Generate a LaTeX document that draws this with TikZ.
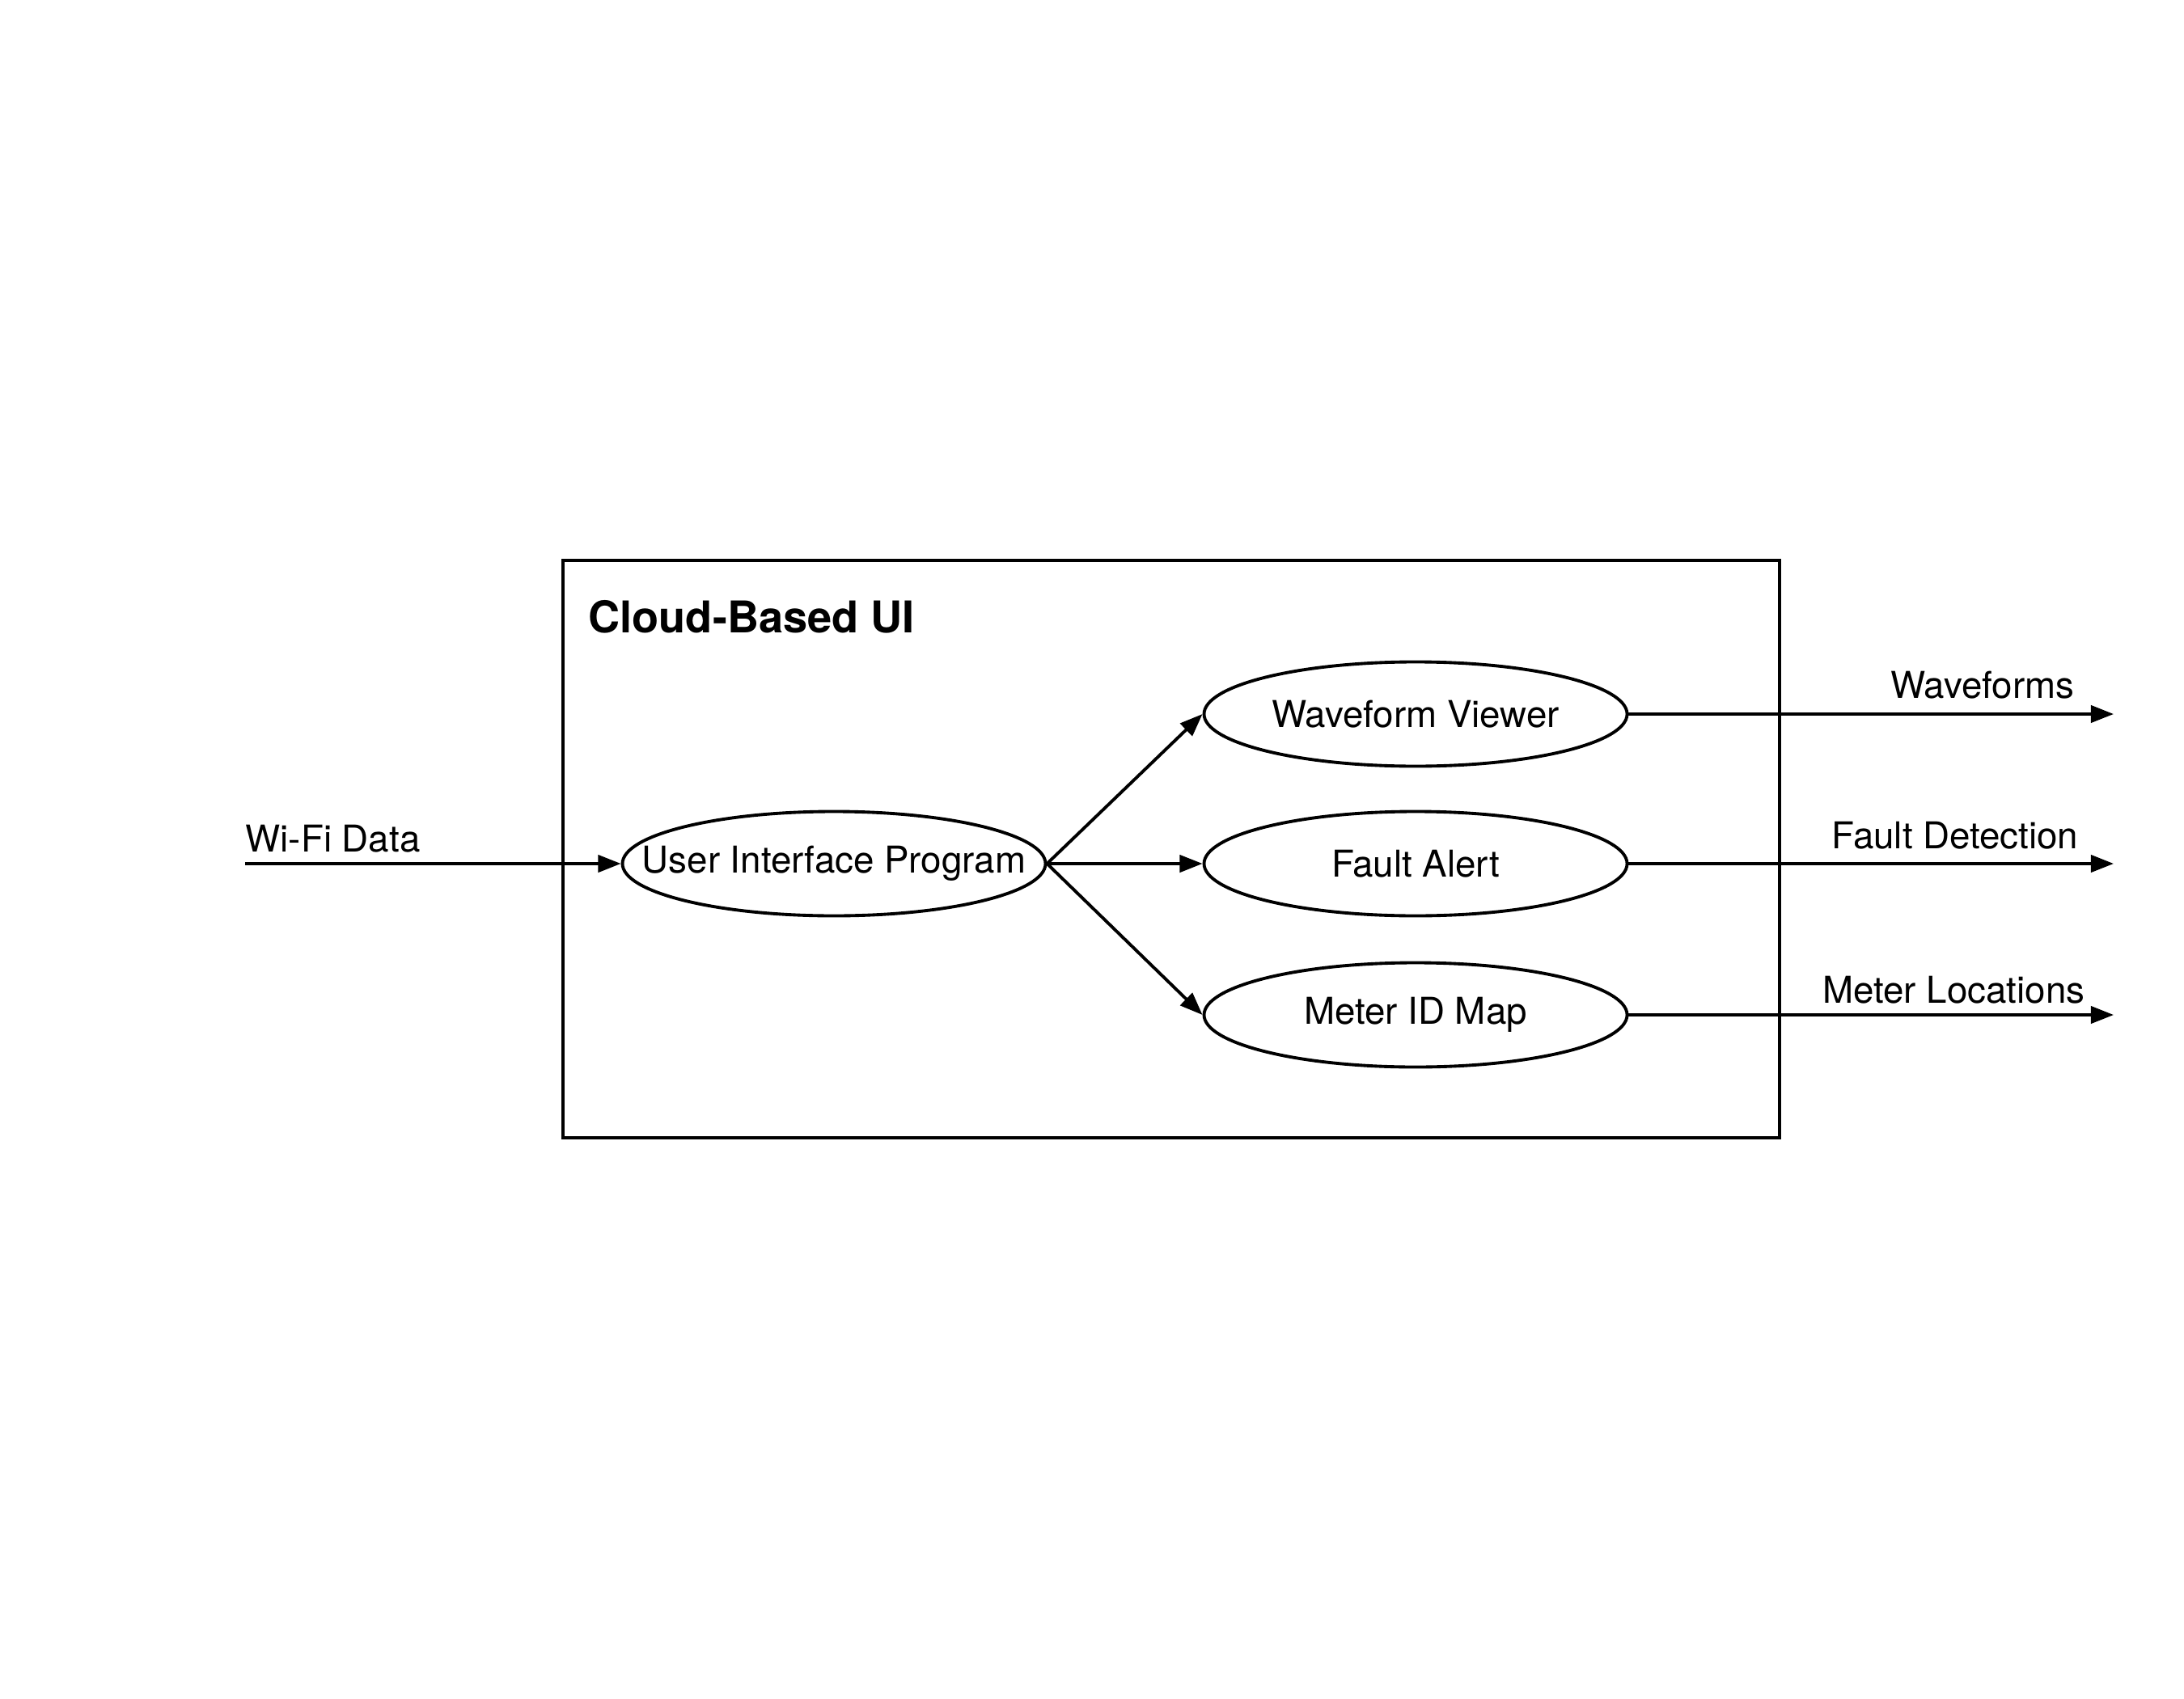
\documentclass[tikz,border=0pt]{standalone}
\usepackage{fontspec}
\setmainfont{TeX Gyre Heros}
\usetikzlibrary{shapes.geometric, arrows.meta}
\tikzstyle{proc} = [draw, ellipse, line width=1.1pt, minimum width=5.23cm, minimum height=1.29cm, inner sep=0pt, font=\fontsize{13}{15.5}\selectfont]
\tikzstyle{frame} = [draw, line width=1.1pt]
\tikzstyle{line} = [draw, line width=1.1pt, -{Triangle[length=8pt, width=6pt]}]
\tikzstyle{lbl} = [inner sep=0pt, font=\fontsize{13}{15.5}\selectfont]
\newcommand{\outarrow}[4]{
  \path [line] (#1.east) -- (#2);
  \node (#2l) [lbl, anchor=base east] at (#3) {#4};}

\begin{document}
\begin{tikzpicture}
		\useasboundingbox (0,0) rectangle (27,21);

		% Draw diagram elements
		\draw [frame] (6.96,6.93) rectangle (22.00,14.07);
		\node (title) [lbl, anchor=base west, font=\fontsize{15.4}{18}\selectfont\bfseries] at (7.27,13.18) {Cloud-Based UI};
		\node (uip) [proc, inner xsep=-0.6cm] at (10.31,10.32) {User Interface Program};
		\node (wave) [proc] at (17.50,12.17) {Waveform Viewer};
		\node (fault) [proc] at (17.50,10.32) {Fault Alert};
		\node (meter) [proc] at (17.50,8.45) {Meter ID Map};
		\coordinate (wifi) at (3.03,10.32);
		\coordinate (wout) at (26.13,12.17);
		\coordinate (fout) at (26.13,10.32);
		\coordinate (mout) at (26.13,8.45);

		% Draw arrows between elements
		\path [line] (wifi) -- (uip.west);
		\node (wifil) [lbl, anchor=base west] at (3.03,10.47) {Wi-Fi Data};
		\path [line] (uip.east) -- (wave.west);
		\path [line] (uip.east) -- (fault.west);
		\path [line] (uip.east) -- (meter.west);
		\outarrow{wave}{wout}{25.65,12.37}{Waveforms}
		\outarrow{fault}{fout}{25.70,10.51}{Fault Detection}
		\outarrow{meter}{mout}{25.78,8.60}{Meter Locations}

\end{tikzpicture}
\end{document}
